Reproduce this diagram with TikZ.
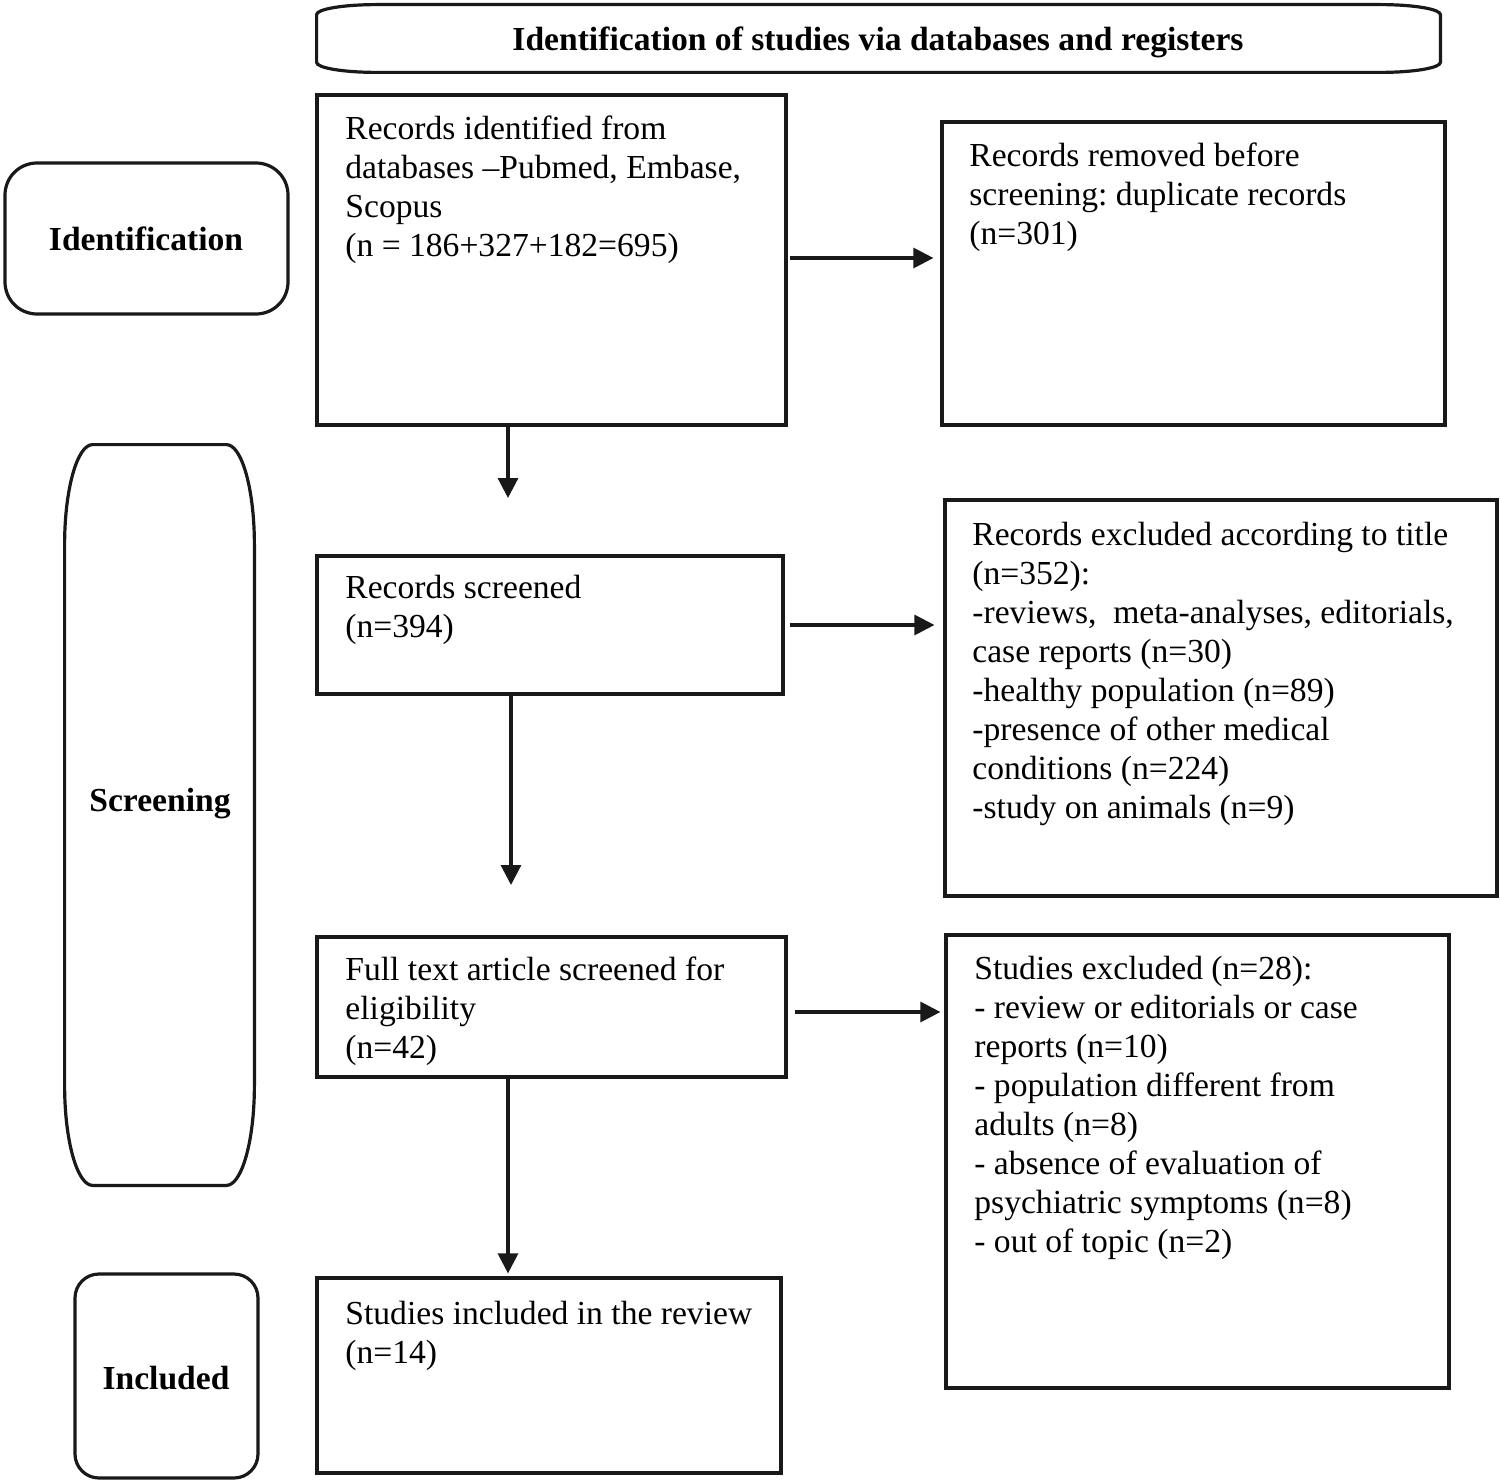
\documentclass[tikz,border=0pt]{standalone}
\usepackage{fontspec}
\setmainfont{Liberation Serif}
\usetikzlibrary{arrows.meta,fit}
\newcommand\fs{\rule{0pt}{12pt}}
\frenchspacing
\begin{document}
\begin{tikzpicture}[x=0.5pt,y=-0.5pt,
  ln/.style={draw=black!90, line width=1.6pt},
  box/.style={ln, inner sep=0pt},
  lbl/.style={inner sep=0pt, anchor=base, font=\fontsize{16.8}{19.5}\selectfont\bfseries},
  txt/.style={inner sep=0pt, anchor=north west, align=left, font=\fontsize{16.8}{19.5}\selectfont},
  arr/.style={draw=black!90, line width=1.6pt, -{Triangle[length=10pt,width=10pt]}}]
\useasboundingbox (0,0) rectangle (1500,1482);

% header
\node[inner sep=0pt, fit={(317,5) (1440,72)}] (hdr) {};
\draw[ln] ([xshift=30pt]hdr.north west) -- ([xshift=-30pt]hdr.north east)
  arc[start angle=90, end angle=0, x radius=30pt, y radius=5pt]
  -- ([yshift=5pt]hdr.south east)
  arc[start angle=0, end angle=-90, x radius=30pt, y radius=5pt]
  -- ([xshift=30pt]hdr.south west)
  arc[start angle=270, end angle=180, x radius=30pt, y radius=5pt]
  -- ([yshift=-5pt]hdr.north west)
  arc[start angle=180, end angle=90, x radius=30pt, y radius=5pt] -- cycle;
\node[lbl] (hdrt) at (878,51) {Identification of studies via databases and registers};

% stage labels
\node[box, rounded corners=16pt, fit={(5,163) (288,314)}] (sid) {};
\node[lbl] (sidt) at (146,251) {Identification};
\node[inner sep=0pt, fit={(65,445) (254,1185)}] (sscr) {};
\draw[ln] ([xshift=14pt]sscr.north west) -- ([xshift=-14pt]sscr.north east)
  arc[start angle=90, end angle=0, x radius=14pt, y radius=50pt]
  -- ([yshift=50pt]sscr.south east)
  arc[start angle=0, end angle=-90, x radius=14pt, y radius=50pt]
  -- ([xshift=14pt]sscr.south west)
  arc[start angle=270, end angle=180, x radius=14pt, y radius=50pt]
  -- ([yshift=-50pt]sscr.north west)
  arc[start angle=180, end angle=90, x radius=14pt, y radius=50pt] -- cycle;
\node[lbl] (sscrt) at (160,811) {Screening};
\node[box, rounded corners=12pt, fit={(75,1274) (258,1478)}] (sinc) {};
\node[lbl] (sinct) at (166,1389) {Included};

% boxes
\node[box, fit={(317,95) (786,425)}] (b1) {};
\node[box, fit={(942,122) (1445,425)}] (b2) {};
\node[box, fit={(317,556) (783,694)}] (b3) {};
\node[box, fit={(945,500) (1497,896)}] (b4) {};
\node[box, fit={(317,937) (786,1077)}] (b5) {};
\node[box, fit={(946,935) (1449,1388)}] (b6) {};
\node[box, fit={(317,1278) (781,1473)}] (b7) {};

% texts
\node[txt] (t1) at (345,115) {\fs Records identified from\\databases –Pubmed, Embase,\\Scopus\\(n = 186+327+182=695)};
\node[txt] (t2) at (969,142) {\fs Records removed before\\screening: duplicate records\\(n=301)};
\node[txt] (t3) at (345,574) {\fs Records screened\\(n=394)};
\node[txt] (t4) at (972,521) {\fs Records excluded according to title\\(n=352):\\-reviews,\ \ meta-analyses, editorials,\\case reports (n=30)\\-healthy population (n=89)\\-presence of other medical\\conditions (n=224)\\-study on animals (n=9)};
\node[txt] (t5) at (345,956) {\fs Full text article screened for\\eligibility\\(n=42)};
\node[txt] (t6) at (974,955) {\fs Studies excluded (n=28):\\- review or editorials or case\\reports (n=10)\\- population different from\\adults (n=8)\\- absence of evaluation of\\psychiatric symptoms (n=8)\\- out of topic (n=2)};
\node[txt] (t7) at (345,1300) {\fs Studies included in the review\\(n=14)};

% connectors
\coordinate (c1) at (508,498);
\coordinate (c2) at (0,258);
\coordinate (c3) at (511,885);
\coordinate (c4) at (0,1012);
\coordinate (c5) at (508,0);
\draw[arr, shorten <=1pt, shorten >=3.5pt] (b1.east |- c2) -- (b2.west |- c2);
\draw[arr] (b1.south -| c1) -- (c1);
\draw[arr, shorten <=2.5pt, shorten >=4.5pt] (b3.east) -- (b4.west |- b3.east);
\draw[arr] (b3.south -| c3) -- (c3);
\draw[arr, shorten <=3.5pt, shorten >=2pt] (b5.east |- c4) -- (b6.west |- c4);
\draw[arr, shorten >=1.5pt] (b5.south -| c5) -- (b7.north -| c5);
\end{tikzpicture}
\end{document}
